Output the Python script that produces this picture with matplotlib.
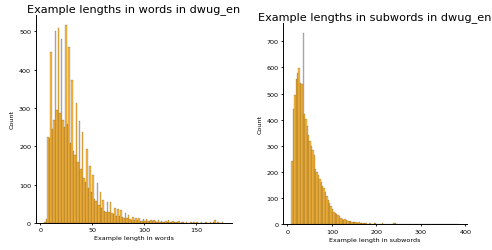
import numpy as np
import matplotlib
matplotlib.use("Agg")
import matplotlib.pyplot as plt
from matplotlib.colors import to_rgba
from matplotlib.ticker import MultipleLocator

# ---------------- data ----------------
# Left: example length in words (120 equal bins between min and max length)
word_min, word_max = 4, 176
word_counts = [
    3, 10, 225, 222, 446, 245, 269, 501, 295, 509,
    287, 480, 269, 250, 517, 258, 460, 209, 373, 188,
    178, 313, 160, 266, 140, 237, 118, 108, 193, 92,
    150, 80, 124, 62, 57, 105, 48, 82, 40, 60,
    32, 30, 56, 28, 55, 26, 24, 38, 19, 36,
    17, 34, 15, 14, 25, 12, 20, 10, 9, 16,
    8, 14, 7, 13, 6, 6, 11, 5, 10, 5,
    4, 9, 4, 8, 4, 3, 7, 3, 6, 3,
    3, 5, 2, 9, 3, 2, 4, 2, 2, 3,
    6, 1, 2, 3, 1, 2, 1, 1, 2, 1,
    3, 1, 2, 1, 0, 2, 1, 0, 2, 1,
    1, 2, 1, 2, 7, 1, 2, 0, 1, 2,
]

# Right: example length in subwords (120 equal bins between min and max length)
sub_min, sub_max = 9, 385
sub_counts = [
    243, 441, 493, 555, 580, 597, 542, 535, 733, 421,
    402, 376, 340, 318, 298, 285, 266, 211, 200, 190,
    175, 163, 147, 138, 122, 107, 92, 80, 70, 58,
    48, 45, 38, 35, 30, 24, 22, 18, 20, 15,
    14, 12, 12, 10, 9, 8, 10, 6, 7, 5,
    6, 4, 5, 4, 3, 3, 4, 3, 2, 6,
    5, 2, 2, 3, 2, 4, 2, 1, 3, 2,
    2, 1, 2, 4, 5, 2, 1, 1, 2, 1,
    1, 0, 1, 0, 1, 0, 1, 0, 0, 1,
    0, 0, 0, 1, 0, 0, 0, 0, 0, 0,
    0, 0, 0, 0, 0, 0, 0, 0, 0, 0,
    0, 0, 0, 0, 0, 0, 0, 0, 0, 1,
]

titles = ["Example lengths in words in dwug_en", "Example lengths in subwords in dwug_en"]
xlabels = ["Example length in words", "Example length in subwords"]
ylabel = "Count"
x_steps = [50, 100]

# ---------------- figure ----------------
W, H, DPI = 492, 251, 100
fig = plt.figure(figsize=(W / DPI, H / DPI), dpi=DPI)

def px_axes(x0, x1, ytop, ybot):
    return fig.add_axes([x0 / W, 1 - ybot / H, (x1 - x0) / W, (ybot - ytop) / H])

ax1 = px_axes(35.5, 232, 16, 224)
ax2 = px_axes(283, 467, 24, 225.3)

face = to_rgba("orange", 0.75)
label_fs = 4.6
title_fs = 8.1

for ax, (lo, hi, counts), title, xl, step in zip(
    [ax1, ax2],
    [(word_min, word_max, word_counts), (sub_min, sub_max, sub_counts)],
    titles, xlabels, x_steps,
):
    edges = np.linspace(lo, hi, len(counts) + 1)
    widths = np.diff(edges)
    # bar edge width like seaborn: 10% of bar width in points
    bar_w_pts = (ax.get_position().width * W / ((hi - lo) * 1.1)) * widths[0] * 72 / DPI
    ax.bar(edges[:-1], counts, width=widths, align="edge", facecolor=face,
           edgecolor="black", linewidth=0.1 * bar_w_pts)
    ax.xaxis.set_major_locator(MultipleLocator(step))
    ax.yaxis.set_major_locator(MultipleLocator(100))
    ax.set_title(title, fontsize=title_fs, pad=3)
    ax.set_xlabel(xl, fontsize=label_fs, labelpad=2)
    ax.set_ylabel(ylabel, fontsize=label_fs, labelpad=3)
    ax.tick_params(labelsize=label_fs, length=1.7, width=0.6, pad=1.5)
    for s in ["top", "right"]:
        ax.spines[s].set_visible(False)
    for s in ["left", "bottom"]:
        ax.spines[s].set_linewidth(0.7)

fig.savefig("out.png", dpi=DPI)
